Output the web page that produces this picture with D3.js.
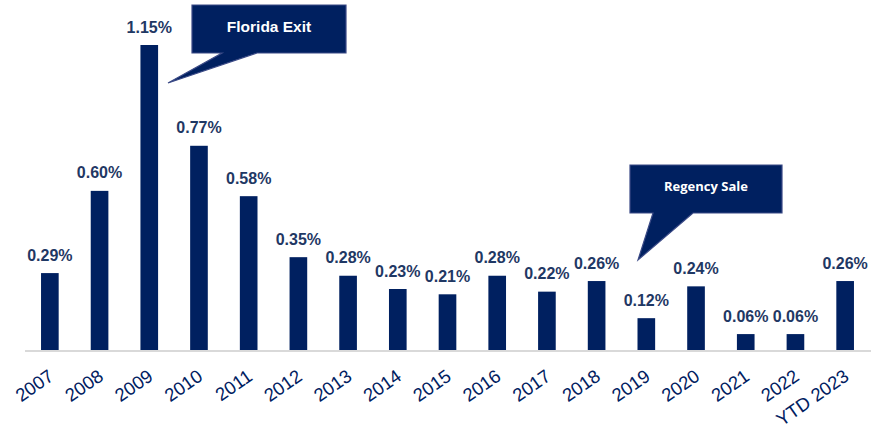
<!DOCTYPE html>
<html>
<head>
<meta charset="utf-8">
<script src="https://cdn.jsdelivr.net/npm/d3@7"></script>
<style>
  body { margin: 0; background: #fff; }
  svg { display: block; }
</style>
</head>
<body>
<svg id="chart"></svg>
<script>
// data
const years = ["2007","2008","2009","2010","2011","2012","2013","2014","2015","2016","2017","2018","2019","2020","2021","2022","YTD 2023"]
const rates = [0.29, 0.60, 1.15, 0.77, 0.58, 0.35, 0.28, 0.23, 0.21, 0.28, 0.22, 0.26, 0.12, 0.24, 0.06, 0.06, 0.26]
const callouts = [
  { text: "Florida Exit", year: "2009" },
  { text: "Regency Sale", year: "2019" },
]

const dimensions = {
  width: 871,
  height: 433,
  baseline: 350,
  top: 45,
  left: 25,
  right: 870,
}

const navy = "#002060"
const labelColor = "#1f3864"

const svg = d3.select("#chart")
    .attr("width", dimensions.width)
    .attr("height", dimensions.height)

// scales
const xScale = d3.scaleBand()
  .domain(years)
  .range([dimensions.left, dimensions.right])
  .padding(0)

const yScale = d3.scaleLinear()
  .domain([0, 1.15])
  .range([dimensions.baseline, dimensions.top])

const barWidth = xScale.bandwidth() * 0.355
const cx = d => xScale(d) + xScale.bandwidth() / 2

// bars
svg.append("g")
  .selectAll("rect")
  .data(years)
  .join("rect")
    .attr("x", d => cx(d) - barWidth / 2)
    .attr("y", (d, i) => yScale(rates[i]))
    .attr("width", barWidth)
    .attr("height", (d, i) => yScale(0) - yScale(rates[i]))
    .attr("fill", navy)

// axis line
svg.append("line")
  .attr("x1", dimensions.left)
  .attr("x2", dimensions.right + 1)
  .attr("y1", dimensions.baseline + 1)
  .attr("y2", dimensions.baseline + 1)
  .attr("stroke", "#d9d9d9")
  .attr("stroke-width", 2)

// value labels
svg.append("g")
  .selectAll("text")
  .data(years)
  .join("text")
    .attr("x", d => cx(d))
    .attr("y", (d, i) => yScale(rates[i]) - 12.5)
    .attr("text-anchor", "middle")
    .attr("font-family", "Liberation Sans, Arial, sans-serif")
    .attr("font-weight", "bold")
    .attr("font-size", 16)
    .attr("fill", labelColor)
    .text((d, i) => rates[i].toFixed(2) + "%")

// x axis tick labels, rotated
const xAxis = d3.axisBottom(xScale).tickSize(0).tickPadding(0)
const axisG = svg.append("g")
  .attr("transform", `translate(0, ${dimensions.baseline})`)
  .call(xAxis)
axisG.select(".domain").remove()
axisG.selectAll("text")
  .attr("font-family", "Liberation Sans, Arial, sans-serif")
  .attr("font-size", 18.5)
  .attr("fill", navy)
  .attr("text-anchor", "end")
  .attr("dy", null)
  .attr("y", 0)
  .attr("transform", "translate(5, 29) rotate(-35)")

// callouts (boxes with pointer tails)
const calloutShapes = [
  { box: [192, 5, 154, 48], tail: [[222, 52], [257, 52], [168, 83]], font: "Liberation Sans, Arial, sans-serif", size: 15.5, dy: 27 },
  { box: [630, 165, 152, 48], tail: [[653, 212], [693, 212], [638, 260]], font: "Open Sans, Lato, sans-serif", size: 13, dy: 26 },
]

callouts.forEach((c, i) => {
  const s = calloutShapes[i]
  const g = svg.append("g")
  const [bx, by, bw, bh] = s.box
  const pts = s.tail
  // outline path: box + tail
  const path = `M${bx},${by} H${bx + bw} V${by + bh} H${pts[1][0]} L${pts[2][0]},${pts[2][1]} L${pts[0][0]},${by + bh} H${bx} Z`
  g.append("path")
    .attr("d", path)
    .attr("fill", navy)
    .attr("stroke", "#3b4a86")
    .attr("stroke-width", 1.2)
    .attr("stroke-linejoin", "miter")
  g.append("text")
    .attr("x", bx + bw / 2)
    .attr("y", by + s.dy)
    .attr("text-anchor", "middle")
    .attr("font-family", s.font)
    .attr("font-weight", "bold")
    .attr("font-size", s.size)
    .attr("fill", "#fff")
    .text(c.text)
})
</script>
</body>
</html>
